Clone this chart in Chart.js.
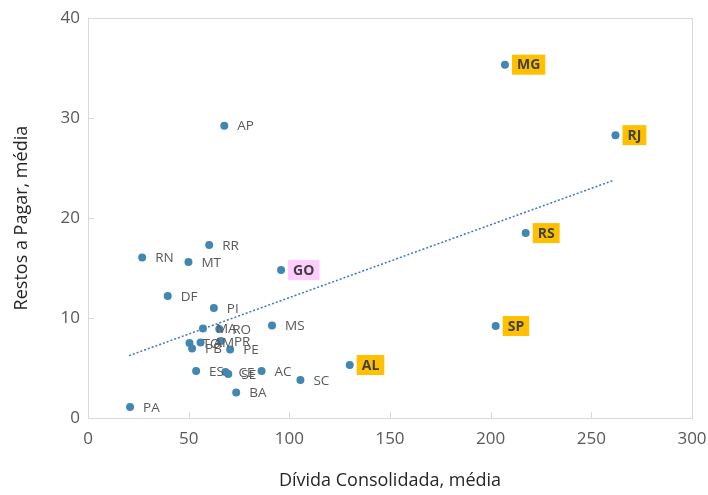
<!DOCTYPE html>
<html><head><meta charset="utf-8">
<script src="https://cdn.jsdelivr.net/npm/chart.js@4"></script>
<style>html,body{margin:0;padding:0;background:#fff}#wrap{width:708px;height:495px;position:relative}</style>
</head><body><div id="wrap"><canvas id="c"></canvas></div>
<script>
const states = ['MG','RJ','AP','RS','SP','RR','RN','MT','GO','DF','PI','MS','MA','RO','TO','PB','AM','PR','PE','ES','CE','SE','AC','SC','BA','AL','PA'];
const divida = [207.1,262.0,67.7,217.4,202.5,60.2,26.9,49.9,95.9,39.6,62.5,91.4,57.1,65.2,50.4,51.7,55.9,66.0,70.6,53.7,68.3,69.7,86.2,105.5,73.6,130.0,20.9];
const restos = [35.35,28.3,29.25,18.5,9.2,17.3,16.05,15.6,14.8,12.2,11.0,9.25,8.95,8.9,7.5,6.95,7.55,7.7,6.85,4.7,4.6,4.4,4.7,3.8,2.55,5.3,1.1];
const goldStates = ['MG','RJ','RS','SP','AL'];
const pinkStates = ['GO'];
const trendX = [20.4, 261.3];
const trendY = [6.24, 23.8];
const xTicks = [0,50,100,150,200,250,300];
const yTicks = [0,10,20,30,40];

const FONT = "'Open Sans', 'Noto Sans', sans-serif";
const pts = states.map((s,i)=>({x:divida[i], y:restos[i], s}));
const trend = trendX.map((x,i)=>({x, y:trendY[i]}));

const decor = {
  id:'decor',
  afterDatasetsDraw(chart){
    const {ctx, chartArea:a, scales:{x,y}} = chart;
    ctx.save();
    ctx.strokeStyle = '#d9d9d9'; ctx.lineWidth = 1;
    ctx.strokeRect(Math.round(a.left)+0.5, Math.round(a.top)+0.5, Math.round(a.right-a.left), Math.round(a.bottom-a.top));
    ctx.beginPath();
    xTicks.slice(1,-1).forEach(v=>{const px=Math.round(x.getPixelForValue(v))+0.5; ctx.moveTo(px,a.bottom); ctx.lineTo(px,a.bottom-6);});
    yTicks.slice(1,-1).forEach(v=>{const py=Math.round(y.getPixelForValue(v))+0.5; ctx.moveTo(a.left,py); ctx.lineTo(a.left+6,py);});
    ctx.stroke();
    ctx.textBaseline = 'middle';
    pts.forEach(p=>{
      const px = x.getPixelForValue(p.x), py = y.getPixelForValue(p.y);
      const gold = goldStates.includes(p.s), pink = pinkStates.includes(p.s);
      if (gold || pink) {
        ctx.font = "bold 14px " + FONT;
        const w = ctx.measureText(p.s).width + 10;
        const bx = px + 7, bh = 20;
        ctx.fillStyle = gold ? '#ffc000' : '#ffccff';
        ctx.fillRect(bx, py - bh/2, w, bh);
        ctx.fillStyle = '#404040';
        ctx.textAlign = 'left';
        ctx.fillText(p.s, bx + 5, py + 0.5);
      } else {
        ctx.font = "13.5px " + FONT;
        ctx.fillStyle = '#595959';
        ctx.textAlign = 'left';
        ctx.fillText(p.s, px + 13, py + 1);
      }
    });
    ctx.restore();
  }
};

new Chart(document.getElementById('c'), {
  type:'scatter',
  data:{datasets:[
    {data:pts, backgroundColor:'#4187b1', borderWidth:0, pointRadius:4, pointHoverRadius:4, order:1},
    {type:'line', data:trend, showLine:true, borderColor:'#4472c4', borderWidth:1.5, borderDash:[2,2], pointRadius:0, fill:false, order:2}
  ]},
  options:{
    responsive:true, maintainAspectRatio:false, animation:false,
    layout:{padding:{left:0,right:0,top:15,bottom:0}},
    plugins:{legend:{display:false}, tooltip:{enabled:false}},
    scales:{
      x:{type:'linear', min:0, max:300,
        afterBuildTicks(s){ s.ticks = xTicks.map(v=>({value:v})); },
        afterFit(s){ s.height = 77; s.paddingRight = 16; },
        grid:{display:false, drawTicks:false}, border:{display:false},
        ticks:{font:{family:FONT,size:17}, color:'#595959', padding:11},
        title:{display:true, text:'Dívida Consolidada, média', font:{family:FONT,size:18}, color:'#262626', padding:{top:0,bottom:3}}
      },
      y:{type:'linear', min:0, max:40,
        afterBuildTicks(s){ s.ticks = yTicks.map(v=>({value:v})); },
        afterFit(s){ s.width = 88; },
        grid:{display:false, drawTicks:false}, border:{display:false},
        ticks:{font:{family:FONT,size:17}, color:'#595959', padding:8},
        title:{display:true, text:'Restos a Pagar, média', font:{family:FONT,size:18}, color:'#262626', padding:{top:11,bottom:0}}
      }
    }
  },
  plugins:[decor]
});
</script></body></html>
